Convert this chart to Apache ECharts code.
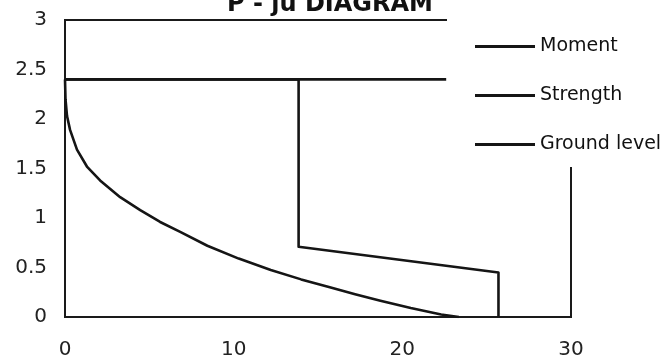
<!DOCTYPE html>
<html>
<head>
<meta charset="utf-8">
<script src="https://cdn.jsdelivr.net/npm/echarts@6/dist/echarts.min.js"></script>
<style>html,body{margin:0;padding:0;background:#fff}#c{width:660px;height:362px}</style>
</head>
<body>
<div id="c"></div>
<script>
const titleText = 'P - ju DIAGRAM';
const seriesNames = ['Moment', 'Strength', 'Ground level'];
const momentData = [[0,2.4],[0.03,2.2],[0.12,2.03],[0.3,1.89],[0.71,1.69],[1.3,1.52],[2.08,1.38],[3.27,1.21],[4.46,1.08],[5.64,0.96],[6.83,0.86],[8.44,0.72],[10.3,0.59],[12.2,0.475],[14,0.38],[15.7,0.3],[17.2,0.23],[18.7,0.165],[20.5,0.09],[22.3,0.025],[23.35,0]];
const strengthData = [[0,2.4],[13.85,2.4],[13.85,0.71],[25.7,0.45],[25.7,0]];
const groundData = [[0,2.4],[22.6,2.4]];
const xTicks = [0,10,20,30];
const yTicks = [0,0.5,1,1.5,2,2.5,3];

const chart = echarts.init(document.getElementById('c'), null, {renderer:'canvas'});
const F = 'DejaVu Sans, Liberation Sans, Arial, sans-serif';
const ln = {color:'#151515', width:2.6, join:'round'};
chart.setOption({
  animation:false,
  backgroundColor:'#fff',
  title:{text:titleText, left:'center', top:-12, textStyle:{fontFamily:F, fontSize:24, fontWeight:'bold', color:'#111'}},
  grid:{left:65, right:89, top:20, bottom:45, show:true, borderColor:'#1a1a1a', borderWidth:2, backgroundColor:'transparent'},
  graphic:[{type:'rect', shape:{x:447, y:10, width:213, height:157}, style:{fill:'#fff'}, z:3}],
  legend:{orient:'vertical', left:470, top:32, itemWidth:60, itemHeight:3, itemGap:30, icon:'rect',
    itemStyle:{color:'#151515'},
    textStyle:{fontFamily:F, fontSize:19, color:'#111'}, z:5,
    data:seriesNames},
  xAxis:{type:'value', min:xTicks[0], max:xTicks[xTicks.length-1], interval:10,
    axisLine:{show:true, onZero:false, lineStyle:{color:'#1a1a1a', width:2}}, axisTick:{show:false}, splitLine:{show:false},
    axisLabel:{margin:23, fontFamily:F, fontSize:20, color:'#222'}},
  yAxis:{type:'value', min:yTicks[0], max:yTicks[yTicks.length-1], interval:0.5,
    axisLine:{show:true, lineStyle:{color:'#1a1a1a', width:2}}, axisTick:{show:false}, splitLine:{show:false},
    axisLabel:{margin:18, fontFamily:F, fontSize:20, color:'#222'}},
  series:[
    {name:seriesNames[0], type:'line', data:momentData, smooth:false, symbol:'none', lineStyle:ln, itemStyle:{color:'#151515'}},
    {name:seriesNames[1], type:'line', data:strengthData, symbol:'none', lineStyle:ln, itemStyle:{color:'#151515'}},
    {name:seriesNames[2], type:'line', data:groundData, symbol:'none', lineStyle:ln, itemStyle:{color:'#151515'}}
  ]
});
</script>
</body>
</html>
